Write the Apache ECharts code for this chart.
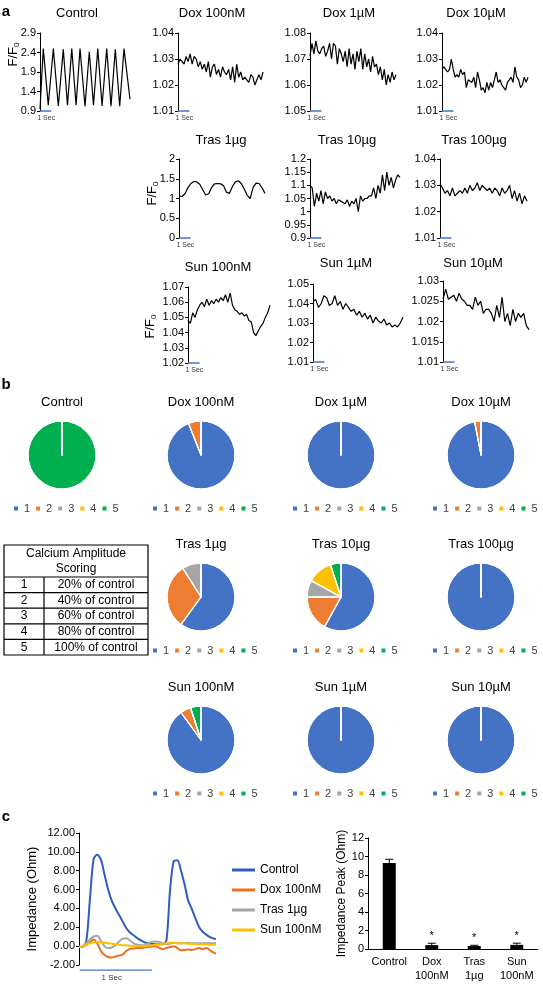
<!DOCTYPE html>
<html><head><meta charset="utf-8">
<script src="https://cdn.jsdelivr.net/npm/echarts@6/dist/echarts.min.js"></script>
<style>html,body{margin:0;padding:0;background:#fff}#c{width:543px;height:987px}</style>
</head><body><div id="c"></div>
<script>
// ---------- Panel a: calcium traces (F/F0) ----------
const controlTimes  = [0,0.29,0.73,1.18,1.62,2.06,2.43,2.81,3.19,3.54,3.98,4.36,4.73,5.11,5.49,5.90,6.28,6.66,7.05,7.43,7.96];
const controlValues = [0.95,2.5,1.05,2.5,1.03,2.48,1.05,2.5,1.05,2.5,1.02,2.42,1.05,2.5,1.03,2.5,1.02,2.48,1.02,2.5,1.2];
const dox100nM = [1.028,1.030,1.029,1.028,1.031,1.029,1.032,1.028,1.031,1.030,1.027,1.029,1.026,1.028,1.025,1.029,1.023,1.027,1.028,1.024,1.026,1.023,1.027,1.025,1.024,1.026,1.022,1.027,1.021,1.028,1.023,1.025,1.022,1.023,1.022,1.021,1.024,1.023,1.020,1.022,1.024,1.022,1.025];
const dox1uM = [1.071,1.076,1.072,1.077,1.073,1.072,1.074,1.075,1.071,1.073,1.076,1.070,1.076,1.075,1.068,1.074,1.072,1.069,1.073,1.067,1.074,1.068,1.072,1.066,1.073,1.069,1.074,1.066,1.072,1.067,1.070,1.065,1.071,1.067,1.068,1.064,1.067,1.062,1.066,1.060,1.064,1.061,1.065,1.062,1.064];
const dox10uM = [1.026,1.027,1.026,1.025,1.026,1.030,1.026,1.023,1.024,1.023,1.026,1.024,1.025,1.019,1.022,1.022,1.021,1.023,1.019,1.025,1.022,1.018,1.019,1.017,1.021,1.018,1.021,1.019,1.022,1.025,1.021,1.022,1.020,1.019,1.018,1.021,1.022,1.023,1.021,1.027,1.023,1.022,1.019,1.020,1.023,1.021,1.023];
const tras1ug = [1.07,1.05,1.12,1.27,1.38,1.43,1.42,1.36,1.22,1.09,1.12,1.28,1.37,1.38,1.37,1.33,1.16,1.13,1.30,1.42,1.45,1.38,1.24,1.08,1.00,1.28,1.39,1.38,1.27,1.13];
const tras10ug = [1.10,1.09,1.02,1.07,1.04,1.08,1.03,1.075,1.05,1.06,1.04,1.05,1.03,1.045,1.04,1.035,1.03,1.045,1.02,1.04,1.03,1.05,1.00,1.06,1.04,1.05,1.05,1.06,1.06,1.09,1.05,1.10,1.07,1.14,1.08,1.15,1.10,1.13,1.09,1.12,1.14,1.13];
const tras100ug = [1.0305,1.029,1.027,1.028,1.026,1.029,1.026,1.027,1.028,1.027,1.029,1.027,1.030,1.028,1.029,1.031,1.028,1.030,1.029,1.028,1.029,1.027,1.029,1.028,1.026,1.029,1.027,1.028,1.030,1.025,1.028,1.024,1.027,1.023,1.026,1.024];
const sun100nM = [1.048,1.046,1.053,1.050,1.055,1.058,1.060,1.057,1.062,1.058,1.061,1.059,1.062,1.060,1.063,1.061,1.065,1.060,1.066,1.058,1.055,1.054,1.052,1.053,1.051,1.052,1.048,1.047,1.040,1.038,1.041,1.044,1.046,1.050,1.053,1.058];
const sun1uM = [1.041,1.042,1.038,1.040,1.044,1.043,1.039,1.040,1.044,1.039,1.041,1.037,1.040,1.038,1.036,1.037,1.034,1.036,1.033,1.035,1.032,1.034,1.030,1.033,1.031,1.030,1.032,1.029,1.030,1.028,1.029,1.028,1.030,1.033];
const sun10uM = [1.0255,1.028,1.0255,1.026,1.0265,1.025,1.027,1.0255,1.025,1.024,1.024,1.023,1.026,1.024,1.025,1.022,1.023,1.023,1.022,1.020,1.024,1.021,1.026,1.020,1.022,1.019,1.023,1.020,1.022,1.021,1.022,1.019,1.018];

// ---------- Panel b: calcium amplitude scoring (%) ----------
const scoreNames = ['1','2','3','4','5'];
const pieControl  = [0,0,0,0,100];
const pieDox100nM = [94,6,0,0,0];
const pieDox1uM   = [100,0,0,0,0];
const pieDox10uM  = [97,3,0,0,0];
const pieTras1ug  = [60,31,9,0,0];
const pieTras10ug = [58,17,8,12,5];
const pieTras100ug= [100,0,0,0,0];
const pieSun100nM = [90,5,0,0,5];
const pieSun1uM   = [100,0,0,0,0];
const pieSun10uM  = [100,0,0,0,0];
const scoreTableRows = [['1','20% of control'],['2','40% of control'],['3','60% of control'],['4','80% of control'],['5','100% of control']];

// ---------- Panel c: impedance ----------
const impTimes  = [0,0.05,0.10,0.15,0.20,0.25,0.30,0.35,0.40,0.45,0.50,0.55,0.60,0.65,0.70,0.75,0.80,0.85,0.90,0.95,1.00,1.05,1.10,1.15,1.20,1.25,1.30,1.35,1.40,1.45,1.50,1.55,1.60,1.65,1.70,1.75,1.80,1.85,1.88];
const impControl = [-0.1,-0.05,0.5,5.0,9.2,9.7,9.2,7.6,6.0,4.8,4.0,3.3,2.6,1.9,1.45,1.15,0.85,0.6,0.4,0.3,0.25,0.2,0.2,0.2,0.6,6.0,9.0,9.1,8.0,6.5,4.8,3.9,2.9,2.0,1.5,1.2,0.95,0.8,0.75];
const impDox     = [-0.1,-0.05,0.1,0.4,0.7,0.3,-0.5,-0.95,-1.15,-1.2,-1.1,-1.0,-0.9,-0.5,-0.3,-0.25,-0.2,-0.2,-0.15,-0.1,-0.05,0.0,-0.2,-0.3,-0.2,-0.1,0.0,-0.2,-0.45,-0.4,-0.35,-0.4,-0.3,-0.2,-0.3,-0.2,-0.45,-0.7,-0.8];
const impTras    = [-0.1,0.0,0.3,0.7,1.0,1.1,0.6,0.0,-0.2,-0.15,0.1,0.5,0.8,0.85,0.6,0.3,0.15,0.1,0.1,0.3,0.45,0.5,0.45,0.3,0.2,0.25,0.35,0.3,0.3,0.3,0.35,0.3,0.3,0.3,0.3,0.3,0.3,0.3,0.3];
const impSun     = [-0.1,0.0,0.15,0.3,0.4,0.45,0.4,0.35,0.3,0.25,0.2,0.15,0.1,0.1,0.05,0.0,0.0,0.0,0.0,0.05,0.1,0.15,0.2,0.25,0.3,0.35,0.35,0.3,0.3,0.3,0.25,0.25,0.2,0.2,0.2,0.2,0.15,0.15,0.15];
const peakCategories = ['Control','Dox\n100nM','Tras\n1µg','Sun\n100nM'];
const peakMeans = [9.3,0.42,0.32,0.45];
const peakErrors = [0.4,0.2,0.08,0.18];
const peakSignificant = [0,1,1,1];

// ---------- layout / style ----------
const FONT = '"Liberation Sans", Arial, sans-serif';
const COL = ['#4472C4','#ED7D31','#A5A5A5','#FFC000','#00B050'];
const grids=[], xAxes=[], yAxes=[], series=[], legends=[], graphics=[];
const fmt = v => String(parseFloat(v.toFixed(4)));

const panelsA = [
  {title:'Control',    tx:77,  ty:13,  left:40,  top:33,  width:90, height:78, min:0.9,  max:2.9,  step:0.5,   times:controlTimes, values:controlValues, yl:{x:13,y:50}},
  {title:'Dox 100nM',  tx:212, ty:13,  left:178, top:33,  width:85, height:78, min:1.01, max:1.04, step:0.01,  values:dox100nM},
  {title:'Dox 1µM',    tx:349, ty:13,  left:310, top:33,  width:86, height:78, min:1.05, max:1.08, step:0.01,  values:dox1uM},
  {title:'Dox 10µM',   tx:476, ty:13,  left:442, top:33,  width:86, height:78, min:1.01, max:1.04, step:0.01,  values:dox10uM},
  {title:'Tras 1µg',   tx:221, ty:140, left:179, top:159, width:86, height:79, min:0,    max:2,    step:0.5,   values:tras1ug, yl:{x:152,y:189}},
  {title:'Tras 10µg',  tx:347, ty:140, left:310, top:159, width:90, height:79, min:0.9,  max:1.2,  step:0.05,  values:tras10ug},
  {title:'Tras 100µg', tx:474, ty:140, left:440, top:159, width:87, height:79, min:1.01, max:1.04, step:0.01,  values:tras100ug},
  {title:'Sun 100nM',  tx:218, ty:267, left:188, top:287, width:82, height:76, min:1.02, max:1.07, step:0.01,  values:sun100nM, yl:{x:150,y:322}},
  {title:'Sun 1µM',    tx:346, ty:263, left:313, top:284, width:90, height:78, min:1.01, max:1.05, step:0.01,  values:sun1uM},
  {title:'Sun 10µM',   tx:473, ty:263, left:443, top:281, width:86, height:81, min:1.01, max:1.03, step:0.005, values:sun10uM}
];
const PX_PER_SEC = 11.5;

function yAxisStyle(extra){
  return Object.assign({
    type:'value', splitLine:{show:false},
    axisLine:{show:true, lineStyle:{color:'#000', width:1}},
    axisTick:{show:true, length:3, lineStyle:{color:'#000'}},
    axisLabel:{fontSize:11, color:'#000', margin:4, fontFamily:FONT}
  }, extra);
}

panelsA.forEach(p => {
  const gi = grids.length;
  grids.push({left:p.left, top:p.top, width:p.width, height:p.height});
  const n = p.values.length;
  const dur = p.times ? p.times[p.times.length-1] : p.width / PX_PER_SEC;
  const times = p.times || p.values.map((_, i) => i * dur / (n - 1));
  xAxes.push({gridIndex:gi, type:'value', min:0, max:dur, show:false});
  yAxes.push(yAxisStyle({gridIndex:gi, min:p.min, max:p.max, interval:p.step,
    axisLabel:{fontSize:11, color:'#000', margin:4, fontFamily:FONT, formatter:fmt}}));
  series.push({type:'line', xAxisIndex:gi, yAxisIndex:gi, data:times.map((t,i)=>[t,p.values[i]]),
    symbol:'none', lineStyle:{color:'#000', width:1.2}, clip:false, silent:true});
  series.push({type:'line', xAxisIndex:gi, yAxisIndex:gi, data:[[0,p.min],[1,p.min]],
    symbol:'none', lineStyle:{color:'#4472C4', width:1.5}, clip:false, silent:true});
  series.push({type:'scatter', xAxisIndex:gi, yAxisIndex:gi, data:[[0.55,p.min]], symbolSize:1,
    itemStyle:{color:'rgba(0,0,0,0)'}, silent:true,
    label:{show:true, position:'bottom', distance:3, formatter:'1 Sec', fontSize:7, color:'#000', fontFamily:FONT}});
  graphics.push({type:'text', x:p.tx, y:p.ty, style:{text:p.title, fontSize:13, fill:'#000', fontFamily:FONT, textAlign:'center', textVerticalAlign:'middle'}});
  if (p.yl) {
    graphics.push({type:'group', x:p.yl.x, y:p.yl.y, rotation:Math.PI/2, children:[
      {type:'text', x:3, y:0, style:{text:'F/F', fontSize:13, fill:'#000', fontFamily:FONT, textAlign:'right', textVerticalAlign:'middle'}},
      {type:'text', x:3, y:4, style:{text:'0', fontSize:8, fill:'#000', fontFamily:FONT, textAlign:'left', textVerticalAlign:'middle'}}
    ]});
  }
});

// ---------- pies ----------
const pies = [
  {title:'Control',    data:pieControl,   cx:62,  cy:455, ty:402, ly:510},
  {title:'Dox 100nM',  data:pieDox100nM,  cx:201, cy:455, ty:402, ly:510},
  {title:'Dox 1µM',    data:pieDox1uM,    cx:341, cy:455, ty:402, ly:510},
  {title:'Dox 10µM',   data:pieDox10uM,   cx:481, cy:455, ty:402, ly:510},
  {title:'Tras 1µg',   data:pieTras1ug,   cx:201, cy:597, ty:544, ly:652},
  {title:'Tras 10µg',  data:pieTras10ug,  cx:341, cy:597, ty:544, ly:652},
  {title:'Tras 100µg', data:pieTras100ug, cx:481, cy:597, ty:544, ly:652},
  {title:'Sun 100nM',  data:pieSun100nM,  cx:201, cy:740, ty:687, ly:795},
  {title:'Sun 1µM',    data:pieSun1uM,    cx:341, cy:740, ty:687, ly:795},
  {title:'Sun 10µM',   data:pieSun10uM,   cx:481, cy:740, ty:687, ly:795}
];
pies.forEach((p, k) => {
  const common = {center:[p.cx, p.cy], radius:[0, 34], startAngle:90, clockwise:true,
    silent:true, label:{show:false}, labelLine:{show:false}, emphasis:{disabled:true}, minAngle:0};
  series.push(Object.assign({type:'pie', name:'pie-'+p.title, itemStyle:{borderColor:'#fff', borderWidth:1},
    data: scoreNames.map((nm, i) => ({name:nm, value:p.data[i], itemStyle:{color:COL[i]}}))}, common));
  // outline overlay so every slice boundary (incl. empty classes) is visible on top
  series.push(Object.assign({type:'pie', name:'pie-edge-'+p.title, z:3,
    itemStyle:{color:'rgba(0,0,0,0)', borderColor:'#fff', borderWidth:1.2},
    data: scoreNames.map((nm, i) => ({name:'e'+nm, value:p.data[i]}))}, common));
  legends.push({data:scoreNames, left:p.cx - 50, top:p.ly - 7, width:140, padding:0, icon:'rect', itemWidth:6, itemHeight:6, itemGap:4,
    selectedMode:false, textStyle:{fontSize:11, color:'#404040', fontFamily:FONT}});
  graphics.push({type:'text', x:p.cx, y:p.ty, style:{text:p.title, fontSize:13, fill:'#000', fontFamily:FONT, textAlign:'center', textVerticalAlign:'middle'}});
});

// ---------- table ----------
(function(){
  const x0=4, x1=148, xd=44, y0=545, yh=577, rh=15.6;
  const yEnd = yh + rh*scoreTableRows.length;
  graphics.push({type:'rect', shape:{x:x0, y:y0, width:x1-x0, height:yEnd-y0}, style:{fill:'none', stroke:'#000', lineWidth:1.2}});
  graphics.push({type:'text', x:(x0+x1)/2, y:(y0+yh)/2, style:{text:'Calcium Amplitude\nScoring', fontSize:12, lineHeight:15, fill:'#000', fontFamily:FONT, textAlign:'center', textVerticalAlign:'middle'}});
  graphics.push({type:'line', shape:{x1:xd, y1:yh, x2:xd, y2:yEnd}, style:{stroke:'#000', lineWidth:1.2}});
  scoreTableRows.forEach((r, i) => {
    const yt = yh + rh*i;
    graphics.push({type:'line', shape:{x1:x0, y1:yt, x2:x1, y2:yt}, style:{stroke:'#000', lineWidth:1.2}});
    graphics.push({type:'text', x:(x0+xd)/2, y:yt+rh/2, style:{text:r[0], fontSize:12, fill:'#000', fontFamily:FONT, textAlign:'center', textVerticalAlign:'middle'}});
    graphics.push({type:'text', x:(xd+x1)/2, y:yt+rh/2, style:{text:r[1], fontSize:12, fill:'#000', fontFamily:FONT, textAlign:'center', textVerticalAlign:'middle'}});
  });
})();

// ---------- panel c line chart ----------
const giC = grids.length;
grids.push({left:79, top:833, width:137, height:132});
xAxes.push({gridIndex:giC, type:'value', min:0, max:impTimes[impTimes.length-1], show:false});
yAxes.push(yAxisStyle({gridIndex:giC, min:-2, max:12, interval:2,
  name:'Impedance (Ohm)', nameLocation:'middle', nameGap:40, nameRotate:90,
  nameTextStyle:{fontSize:13, color:'#000', fontFamily:FONT},
  axisLabel:{fontSize:11, color:'#000', margin:4, fontFamily:FONT, formatter:v=>v.toFixed(2)}}));
const impSeries = [['Control',impControl,'#2F5DBE'],['Dox 100nM',impDox,'#F0701E'],['Tras 1µg',impTras,'#A5A5A5'],['Sun 100nM',impSun,'#FFC000']];
impSeries.forEach(s => {
  series.push({type:'line', name:s[0], xAxisIndex:giC, yAxisIndex:giC, data:impTimes.map((t,i)=>[t,s[1][i]]),
    symbol:'none', smooth:0.3, lineStyle:{color:s[2], width:2}, itemStyle:{color:s[2]}, silent:true});
});
series.push({type:'line', xAxisIndex:giC, yAxisIndex:giC, data:[[0.01,-2.55],[1,-2.55]], symbol:'none', clip:false,
  lineStyle:{color:'#4472C4', width:1.2}, silent:true});
series.push({type:'scatter', xAxisIndex:giC, yAxisIndex:giC, data:[[0.45,-2.55]], symbolSize:1, clip:false,
  itemStyle:{color:'rgba(0,0,0,0)'}, silent:true,
  label:{show:true, position:'bottom', distance:3, formatter:'1 Sec', fontSize:8, color:'#000', fontFamily:FONT}});
legends.push({data:impSeries.map(s=>s[0]), orient:'vertical', left:232, top:864, padding:0, icon:'rect', itemWidth:23, itemHeight:3, itemGap:8,
  selectedMode:false, textStyle:{fontSize:12, color:'#000', fontFamily:FONT}});

// ---------- panel c bar chart ----------
const giB = grids.length;
grids.push({left:368, top:838, width:170, height:111});
xAxes.push({gridIndex:giB, type:'category', data:peakCategories,
  axisLine:{show:true, lineStyle:{color:'#000'}}, axisTick:{show:false},
  axisLabel:{interval:0, fontSize:11, color:'#000', fontFamily:FONT, margin:6, lineHeight:14}});
yAxes.push(yAxisStyle({gridIndex:giB, min:0, max:12, interval:2,
  name:'Impedance Peak (Ohm)', nameLocation:'middle', nameGap:10, nameRotate:90,
  nameTextStyle:{fontSize:12, color:'#000', fontFamily:FONT}}));
series.push({type:'bar', xAxisIndex:giB, yAxisIndex:giB, data:peakMeans, barWidth:13, itemStyle:{color:'#000'}, silent:true});
series.push({type:'custom', xAxisIndex:giB, yAxisIndex:giB, silent:true,
  data: peakMeans.map((m,i)=>[i, m, m+peakErrors[i], peakSignificant[i]]),
  renderItem(params, api){
    const top = api.coord([api.value(0), api.value(2)]);
    const mid = api.coord([api.value(0), api.value(1)]);
    const hw = 4;
    const ch = [
      {type:'line', shape:{x1:top[0], y1:top[1], x2:mid[0], y2:mid[1]}, style:{stroke:'#000', lineWidth:1}},
      {type:'line', shape:{x1:top[0]-hw, y1:top[1], x2:top[0]+hw, y2:top[1]}, style:{stroke:'#000', lineWidth:1}}
    ];
    if (api.value(3)) ch.push({type:'text', x:top[0], y:top[1]-2, style:{text:'*', fontSize:11, fill:'#000', fontFamily:FONT, textAlign:'center', textVerticalAlign:'bottom'}});
    return {type:'group', children:ch};
  }});

// panel letters
[['a',6,12],['b',6,385],['c',6,817]].forEach(l => graphics.push({type:'text', x:l[1], y:l[2],
  style:{text:l[0], fontSize:15, fontWeight:'bold', fill:'#000', fontFamily:FONT, textAlign:'center', textVerticalAlign:'middle'}}));

const chart = echarts.init(document.getElementById('c'), null, {renderer:'canvas'});
chart.setOption({
  animation:false, backgroundColor:'#fff', color:COL,
  grid:grids, xAxis:xAxes, yAxis:yAxes, series:series, legend:legends, graphic:graphics
});
</script></body></html>
